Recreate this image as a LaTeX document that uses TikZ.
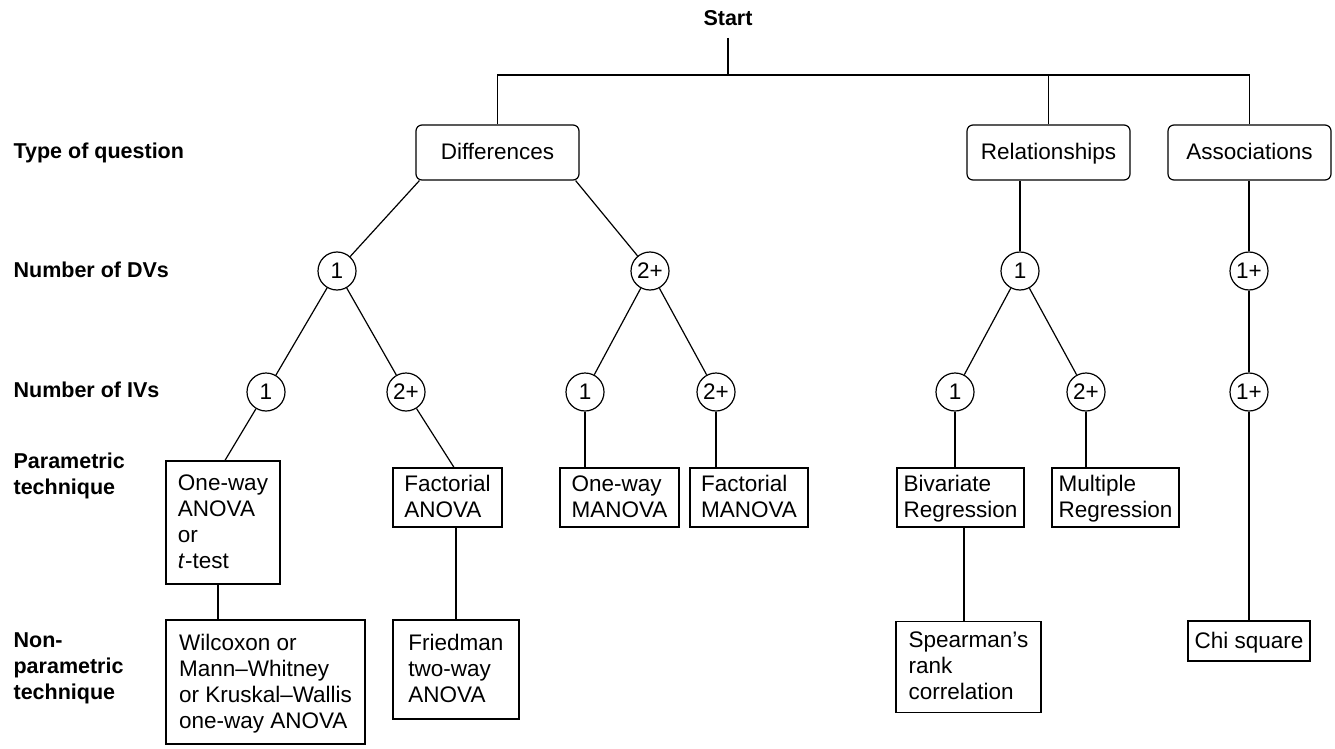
\documentclass[tikz,border=0pt]{standalone}
\usepackage{fontspec}
\setmainfont{Liberation Sans}
\begin{document}
\begin{tikzpicture}[x=1pt,y=-1pt,line width=1.2pt,
  every node/.style={font=\fontsize{22.5}{26}\selectfont},
  lbl/.style={font=\fontsize{21.5}{26}\selectfont\bfseries, align=left, inner sep=0pt},
  qbox/.style={draw, rounded corners=6pt, minimum width=163pt, minimum height=55pt, inner sep=0pt, text height=16pt, text depth=2pt},
  num/.style={draw, circle, minimum size=38pt, inner sep=0pt},
  tbox/.style={draw, align=left, inner sep=0pt, text depth=2pt}]
\useasboundingbox (0,0) rectangle (1335,749);

% row labels
\node[lbl, anchor=base, inner ysep=11pt] (start) at (728,26) {Start};
\node[lbl, anchor=base west] (lq) at (13,158) {Type of question};
\node[lbl, anchor=base west] (ldv) at (13,277) {Number of DVs};
\node[lbl, anchor=base west] (liv) at (13,397) {Number of IVs};
\node[lbl, anchor=west] (lpar) at (13,476) {Parametric\\technique};
\node[lbl, anchor=west] (lnp) at (13,668) {Non-\\parametric\\technique};

% question type boxes
\node[qbox] (diff) at (497.5,152.5) {Differences};
\node[qbox] (rel) at (1048.5,152.5) {Relationships};
\node[qbox] (assoc) at (1249.5,152.5) {Associations};

% circles
\node[num] (d1) at (337,271) {1};
\node[num] (d2) at (650,271) {2+};
\node[num] (d3) at (1020,271) {1};
\node[num] (d4) at (1249,271) {1+};
\node[num] (i1) at (266,392) {1};
\node[num] (i2) at (406,392) {2+};
\node[num] (i3) at (585,392) {1};
\node[num] (i4) at (716,392) {2+};
\node[num] (i5) at (955,392) {1};
\node[num] (i6) at (1086,392) {2+};
\node[num] (i7) at (1249,392) {1+};

% technique boxes
\node[tbox, minimum width=114pt, minimum height=123pt] (oanova) at (223,522.5) {One-way\\ANOVA\\or\\\textit{t}-test};
\node[tbox, minimum width=109pt, minimum height=59pt] (fanova) at (447.5,497.5) {Factorial\\ANOVA};
\node[tbox, minimum width=119pt, minimum height=59pt] (omanova) at (619.5,497.5) {One-way\\MANOVA};
\node[tbox, minimum width=118pt, minimum height=59pt] (fmanova) at (749,497.5) {Factorial\\MANOVA};
\node[tbox, minimum width=127pt, minimum height=59pt] (breg) at (960.5,497.5) {Bivariate\\Regression};
\node[tbox, minimum width=127pt, minimum height=59pt] (mreg) at (1115.5,497.5) {Multiple\\Regression};
\node[tbox, minimum width=199pt, minimum height=124pt] (wil) at (265.5,682) {Wilcoxon or\\Mann–Whitney\\or Kruskal–Wallis\\one-way ANOVA};
\node[tbox, minimum width=126pt, minimum height=99pt] (fried) at (456,669.5) {Friedman\\two-way\\ANOVA};
\node[tbox, minimum width=145pt, minimum height=91pt] (spear) at (968.5,667) {Spearman’s\\rank\\correlation};
\node[tbox, minimum width=122pt, minimum height=40pt] (chi) at (1249,641) {Chi square};

% connectors
\coordinate (bus) at (728,75);
\draw (start.south) -- (bus);
\draw (diff.north) -- (diff.north |- bus) -| (assoc.north);
\draw (rel.north) -- (rel.north |- bus);

\draw ([xshift=4pt]diff.south west) -- (d1);
\draw ([xshift=-4pt]diff.south east) -- (d2);
\draw (d3) -- (d3 |- rel.south);
\draw (d4) -- (d4 |- assoc.south);

\draw (d1) -- (i1);
\draw (d1) -- (i2);
\draw (d2) -- (i3);
\draw (d2) -- (i4);
\draw (d3) -- (i5);
\draw (d3) -- (i6);
\draw (d4) -- (i7);

\draw (i1) -- ([xshift=2pt]oanova.north);
\draw (i2) -- ([xshift=6.5pt]fanova.north);
\draw (i3) -- (i3 |- omanova.north);
\draw (i4) -- (i4 |- fmanova.north);
\draw (i5) -- (i5 |- breg.north);
\draw (i6) -- (i6 |- mreg.north);
\draw (i7) -- (i7 |- chi.north);

\coordinate (c1) at ([xshift=-5pt]oanova.south);
\draw (c1) -- (c1 |- wil.north);
\draw (fried.north) -- (fried.north |- fanova.south);
\coordinate (c2) at ([xshift=3.5pt]breg.south);
\draw (c2) -- (c2 |- spear.north);
\end{tikzpicture}
\end{document}
